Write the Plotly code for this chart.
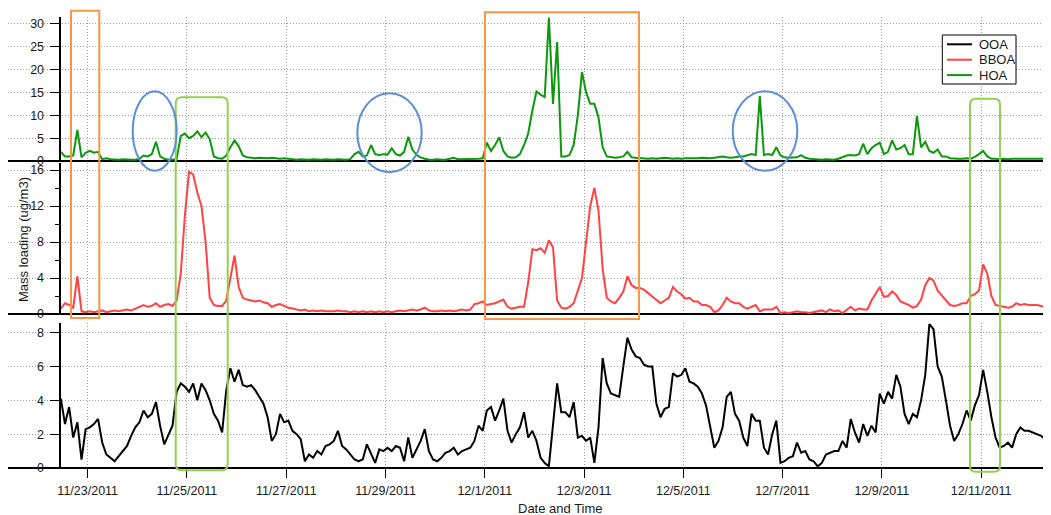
import pandas as pd
import plotly.graph_objects as go

# ---------------- data (2-hour resolution) ----------------
START = "2011-11-22 11:00"
STEP_HOURS = 2

HOA = [
    2.0, 1.0, 1.0, 1.2, 6.8, 0.8, 1.8, 2.2, 1.8, 2.0,
    0.4, 0.6, 0.4, 0.3, 0.3, 0.4, 0.3, 0.3, 0.3, 0.5,
    1.2, 1.0, 1.5, 4.2, 1.0, 0.5, 0.3, 0.3, 0.4, 5.5,
    6.0, 5.0, 5.5, 6.5, 5.2, 6.2, 4.8, 1.0, 0.6, 0.5,
    1.2, 3.0, 4.5, 3.2, 1.2, 0.8, 0.7, 0.6, 0.7, 0.6,
    0.6, 0.7, 0.6, 0.5, 0.6, 0.5, 0.4, 0.3, 0.4, 0.3,
    0.3, 0.4, 0.3, 0.3, 0.4, 0.3, 0.3, 0.4, 0.3, 0.3,
    0.4, 1.5, 2.0, 1.0, 1.2, 3.5, 1.5, 1.3, 1.5, 1.4,
    2.8, 1.5, 1.2, 2.0, 5.3, 2.5, 1.3, 0.8, 0.5, 0.3,
    0.3, 0.4, 0.3, 0.3, 0.5, 0.7, 0.4, 0.4, 0.5, 0.4,
    0.5, 0.5, 0.6, 4.0, 2.2, 3.5, 5.2, 2.2, 1.0, 0.7,
    0.8, 1.5, 3.5, 6.0, 11.0, 15.2, 14.5, 14.0, 31.4, 12.5,
    26.0, 1.0, 1.0, 1.3, 3.5, 10.0, 19.5, 15.0, 12.5, 12.5,
    9.5, 3.0, 1.0, 0.8, 0.7, 0.8, 1.0, 2.0, 0.8, 0.7,
    0.6, 0.6, 0.5, 0.6, 0.5, 0.6, 0.7, 0.6, 0.5, 0.6,
    0.5, 0.6, 0.6, 0.5, 0.6, 0.7, 0.6, 0.6, 0.7, 0.8,
    1.0, 0.8, 0.7, 0.8, 1.0, 1.0, 1.2, 1.5, 1.3, 14.2,
    1.3, 1.5, 1.3, 3.0, 1.2, 0.8, 0.7, 0.8, 0.8, 1.3,
    0.7, 0.5, 0.4, 0.4, 0.3, 0.4, 0.4, 0.3, 0.5, 0.8,
    1.2, 1.3, 1.2, 1.5, 3.8, 1.5, 2.8, 3.5, 4.0, 1.5,
    2.0, 4.5, 2.5, 2.8, 3.5, 1.5, 1.5, 9.8, 3.0, 4.2,
    2.2, 1.8, 2.5, 1.0, 1.0, 0.6, 0.5, 0.5, 0.5, 0.6,
    0.5, 0.9, 1.5, 2.2, 1.0, 0.5, 0.5, 0.4, 0.5, 0.4,
    0.5, 0.5, 0.4, 0.5, 0.5, 0.4, 0.5, 0.4, 0.5, 0.5,
]

BBOA = [
    0.6, 1.2, 1.0, 0.7, 4.2, 0.3, 0.2, 0.3, 0.2, 0.3,
    0.4, 0.2, 0.3, 0.4, 0.3, 0.4, 0.5, 0.4, 0.6, 0.8,
    1.0, 0.8, 0.9, 1.2, 0.8, 1.0, 1.1, 0.9, 1.5, 4.5,
    11.0, 15.8, 15.5, 13.5, 12.0, 8.0, 1.8, 1.0, 0.9, 0.9,
    1.5, 4.0, 6.5, 3.0, 1.8, 1.6, 1.5, 1.4, 1.5, 1.3,
    1.2, 0.8, 1.0, 1.1, 0.9, 0.7, 0.6, 0.5, 0.4, 0.5,
    0.3, 0.4, 0.3, 0.4, 0.3, 0.3, 0.3, 0.4, 0.3, 0.3,
    0.2, 0.3, 0.2, 0.3, 0.2, 0.3, 0.2, 0.3, 0.2, 0.3,
    0.2, 0.3, 0.4, 0.3, 0.4, 0.5, 0.4, 0.5, 0.7, 0.4,
    0.3, 0.3, 0.4, 0.3, 0.4, 0.3, 0.4, 0.5, 0.4, 0.5,
    1.1, 1.2, 1.4, 1.0, 1.1, 1.2, 1.4, 1.6, 0.8, 0.6,
    0.7, 0.8, 0.8, 3.5, 7.2, 7.1, 7.3, 6.8, 8.2, 7.4,
    1.5, 0.7, 0.6, 0.8, 1.2, 2.5, 4.0, 8.0, 12.0, 14.0,
    11.5, 5.0, 1.8, 1.4, 1.2, 1.8, 2.5, 4.2, 3.2, 2.9,
    2.9, 2.7, 2.3, 2.0, 1.6, 1.2, 1.5, 1.8, 3.0, 2.5,
    2.2, 1.7, 1.8, 1.4, 1.4, 1.0, 1.0, 0.8, 0.2, 0.4,
    1.0, 1.8, 1.4, 1.2, 1.2, 0.8, 0.6, 0.8, 1.0, 0.3,
    0.5, 0.5, 0.5, 0.8, 0.1, 0.2, 0.1, 0.2, 0.3, 0.2,
    0.2, 0.1, 0.2, 0.3, 0.4, 0.2, 0.5, 0.3, 0.4, 0.1,
    0.5, 0.8, 0.4, 0.6, 0.5, 0.5, 1.5, 2.2, 3.0, 1.9,
    2.0, 2.5, 2.1, 1.4, 1.2, 1.0, 0.7, 0.9, 1.6, 3.2,
    4.0, 3.7, 2.6, 2.1, 1.5, 1.0, 0.9, 1.0, 1.2, 1.2,
    2.0, 2.2, 2.6, 5.5, 4.5, 2.0, 1.0, 0.9, 0.8, 0.7,
    0.8, 1.2, 1.0, 1.1, 1.0, 1.0, 1.0, 0.9, 0.8, 0.8,
]

OOA = [
    4.1, 2.6, 3.6, 1.8, 2.7, 0.5, 2.3, 2.4, 2.6, 2.9,
    1.5, 0.8, 0.6, 0.4, 0.7, 1.0, 1.3, 1.9, 2.4, 2.7,
    3.4, 3.0, 3.2, 3.9, 2.5, 1.4, 2.0, 2.5, 4.5, 5.0,
    4.8, 4.5, 5.0, 4.0, 5.0, 4.6, 4.0, 3.2, 2.8, 2.1,
    4.6, 5.9, 5.1, 5.8, 4.9, 4.8, 4.9, 4.6, 4.2, 3.8,
    3.0, 1.6, 2.0, 3.2, 2.7, 2.8, 2.2, 2.0, 1.7, 0.4,
    0.8, 0.6, 1.0, 0.8, 1.3, 1.4, 1.6, 2.2, 1.3, 1.1,
    0.8, 0.5, 0.4, 0.5, 1.4, 0.8, 0.3, 1.1, 1.0, 1.2,
    1.0, 1.3, 1.2, 0.4, 1.8, 0.6, 1.1, 1.6, 2.3, 1.0,
    0.5, 0.4, 0.6, 0.9, 1.0, 1.2, 0.8, 1.0, 1.1, 1.2,
    1.6, 2.5, 2.2, 3.4, 3.6, 2.8, 3.4, 4.1, 2.2, 1.5,
    2.0, 2.4, 3.3, 1.8, 2.2, 1.6, 0.6, 0.3, 0.1, 2.6,
    5.0, 3.3, 3.3, 3.0, 3.9, 1.8, 1.9, 1.6, 1.8, 0.3,
    2.4, 6.5, 5.0, 4.4, 4.3, 4.2, 6.0, 7.7, 7.0, 6.6,
    6.5, 6.1, 6.0, 6.0, 3.8, 3.0, 3.5, 3.6, 5.6, 5.4,
    5.5, 5.9, 5.1, 5.0, 4.8, 4.4, 3.7, 2.4, 1.2, 1.6,
    2.4, 4.2, 4.5, 3.2, 2.8, 1.8, 1.3, 3.2, 2.8, 2.8,
    1.2, 0.8, 2.0, 2.8, 0.3, 0.4, 0.6, 0.7, 1.5, 0.9,
    1.0, 0.5, 0.4, 0.1, 0.3, 0.8, 0.9, 1.0, 1.0, 1.6,
    1.2, 2.9, 2.1, 1.5, 2.6, 1.9, 2.5, 2.1, 4.4, 3.8,
    4.5, 4.1, 5.5, 4.8, 3.2, 2.6, 3.2, 3.0, 4.0, 5.5,
    8.5, 8.2, 6.0, 5.4, 4.0, 2.5, 1.6, 2.0, 2.6, 3.4,
    2.8, 3.7, 4.3, 5.8, 4.5, 3.0, 1.8, 1.2, 1.3, 1.5,
    1.2, 2.0, 2.4, 2.2, 2.2, 2.1, 2.0, 1.9, 1.7, 1.6,
]

SERIES_NAMES = ["OOA", "BBOA", "HOA"]
SERIES_COLORS = ["#000000", "#ff4242", "#0c980c"]

TICK_DATES = ["2011-11-23", "2011-11-25", "2011-11-27", "2011-11-29", "2011-12-01",
              "2011-12-03", "2011-12-05", "2011-12-07", "2011-12-09", "2011-12-11"]
TICK_LABELS = ["11/23/2011", "11/25/2011", "11/27/2011", "11/29/2011", "12/1/2011",
               "12/3/2011", "12/5/2011", "12/7/2011", "12/9/2011", "12/11/2011"]

X_RANGE = ["2011-11-21 09:27", "2011-12-12 09:20"]

times = pd.date_range(START, periods=len(OOA), freq=f"{STEP_HOURS}h")

# ---------------- layout geometry ----------------
# The page body adds an 8 px offset, so the figure is 8 px smaller and all
# target positions (page pixels) are shifted by OFF.
OFF = 8
W, H = 1051 - OFF, 515 - OFF
ML, MR, MT, MB = 8 - OFF, 1, 17 - OFF, 515 - 468
PW = W - ML - MR
PH = H - MT - MB


def px(x):
    return (x - OFF - ML) / PW


def py(y):
    return (H - MB - (y - OFF)) / PH


FONT = "Liberation Sans, Arial, sans-serif"
GRID = "#9c9c9c"
DOTS = "1px,2px"

fig = go.Figure()
fig.add_trace(go.Scatter(x=times, y=OOA, name="OOA", mode="lines",
                         line=dict(color=SERIES_COLORS[0], width=2), xaxis="x", yaxis="y",
                         showlegend=False))
fig.add_trace(go.Scatter(x=times, y=BBOA, name="BBOA", mode="lines",
                         line=dict(color=SERIES_COLORS[1], width=2), xaxis="x", yaxis="y2",
                         showlegend=False))
fig.add_trace(go.Scatter(x=times, y=HOA, name="HOA", mode="lines",
                         line=dict(color=SERIES_COLORS[2], width=2), xaxis="x", yaxis="y3",
                         showlegend=False))

common_y = dict(
    anchor="free", position=px(60.3), side="left",
    showline=True, linecolor="black", linewidth=1.5,
    ticks="outside", ticklen=10, tickwidth=1, tickcolor="black",
    ticklabelstandoff=3,
    showgrid=True, gridcolor=GRID, griddash=DOTS, gridwidth=1,
    zeroline=True, zerolinecolor="black", zerolinewidth=1.5,
    tickfont=dict(family=FONT, size=12.5, color="#1a1a1a"),
    automargin=False, fixedrange=True,
)

fig.update_layout(
    width=W, height=H,
    margin=dict(l=ML, r=MR, t=MT, b=MB, pad=0),
    paper_bgcolor="white", plot_bgcolor="white",
    font=dict(family=FONT, size=12.5, color="#1a1a1a"),
    xaxis=dict(
        type="date", range=X_RANGE, anchor="y",
        tickvals=TICK_DATES, ticktext=TICK_LABELS,
        ticks="outside", ticklen=9, tickwidth=1, tickcolor="black",
        ticklabelstandoff=2,
        showgrid=True, gridcolor=GRID, griddash=DOTS, gridwidth=1,
        showline=False, zeroline=False,
        tickfont=dict(family=FONT, size=12.5, color="#1a1a1a"),
        automargin=False,
    ),
    yaxis=dict(domain=[0, py(323)], range=[0, 8.57], tickvals=[0, 2, 4, 6, 8], **common_y),
    yaxis2=dict(domain=[py(314), py(163)], range=[0, 16.78], tickvals=[0, 4, 8, 12, 16],
                minor=dict(tickvals=[2, 6, 10, 14], ticks="outside", ticklen=5,
                           tickcolor="black", showgrid=False),
                **common_y),
    yaxis3=dict(domain=[py(161), 1.0], range=[0, 31.5], tickvals=[0, 5, 10, 15, 20, 25, 30],
                **common_y),
    showlegend=False,
)

# axis titles
fig.add_annotation(text="Date and Time", xref="paper", yref="paper",
                   x=px(560), y=py(508), xanchor="center", yanchor="middle",
                   showarrow=False, font=dict(family=FONT, size=13, color="#1a1a1a"))
fig.add_annotation(text="Mass loading (ug/m3)", xref="paper", yref="paper",
                   x=px(23), y=py(240), xanchor="center", yanchor="middle", textangle=-90,
                   showarrow=False, font=dict(family=FONT, size=13, color="#1a1a1a"))

# ---------------- highlight shapes (pixel positions converted to paper) ----------------
ORANGE = "#f79646"
LGREEN = "#92d050"
BLUE = "#5a8fd8"


def rect(x0, y0, x1, y1, color):
    fig.add_shape(type="rect", xref="paper", yref="paper",
                  x0=px(x0), x1=px(x1), y0=py(y1), y1=py(y0),
                  line=dict(color=color, width=2), fillcolor="rgba(0,0,0,0)", layer="above")


def rounded(x0, y0, x1, y1, r, color):
    p = (f"M {px(x0 + r)},{py(y0)} L {px(x1 - r)},{py(y0)} "
         f"Q {px(x1)},{py(y0)} {px(x1)},{py(y0 + r)} L {px(x1)},{py(y1 - r)} "
         f"Q {px(x1)},{py(y1)} {px(x1 - r)},{py(y1)} L {px(x0 + r)},{py(y1)} "
         f"Q {px(x0)},{py(y1)} {px(x0)},{py(y1 - r)} L {px(x0)},{py(y0 + r)} "
         f"Q {px(x0)},{py(y0)} {px(x0 + r)},{py(y0)} Z")
    fig.add_shape(type="path", xref="paper", yref="paper", path=p,
                  line=dict(color=color, width=2), fillcolor="rgba(0,0,0,0)", layer="above")


def ellipse(x0, y0, x1, y1, color):
    fig.add_shape(type="circle", xref="paper", yref="paper",
                  x0=px(x0), x1=px(x1), y0=py(y1), y1=py(y0),
                  line=dict(color=color, width=2), fillcolor="rgba(0,0,0,0)", layer="above")


rect(71, 10.7, 99.3, 318, ORANGE)
rect(485, 12.3, 639, 319, ORANGE)
rounded(175.7, 97.3, 227.7, 470.3, 6, LGREEN)
rounded(970, 98.7, 1000, 471.7, 6, LGREEN)
ellipse(132.7, 91.3, 176.7, 170.7, BLUE)
ellipse(357.3, 93.3, 421.7, 172.3, BLUE)
ellipse(732.7, 91.3, 797.3, 170.7, BLUE)

# ---------------- legend box ----------------
fig.add_shape(type="rect", xref="paper", yref="paper",
              x0=px(942.3), x1=px(1016), y0=py(84), y1=py(35),
              line=dict(color="black", width=1), fillcolor="white", layer="above")
for k, (name, col) in enumerate(zip(SERIES_NAMES, SERIES_COLORS)):
    yy = 44.3 + k * 15.4
    fig.add_shape(type="line", xref="paper", yref="paper",
                  x0=px(947), x1=px(972), y0=py(yy), y1=py(yy),
                  line=dict(color=col, width=2), layer="above")
    fig.add_annotation(text=name, xref="paper", yref="paper", x=px(976.5), y=py(yy),
                       xanchor="left", yanchor="middle", showarrow=False,
                       font=dict(family=FONT, size=13, color="#1a1a1a"))

fig.write_html("out.html")
